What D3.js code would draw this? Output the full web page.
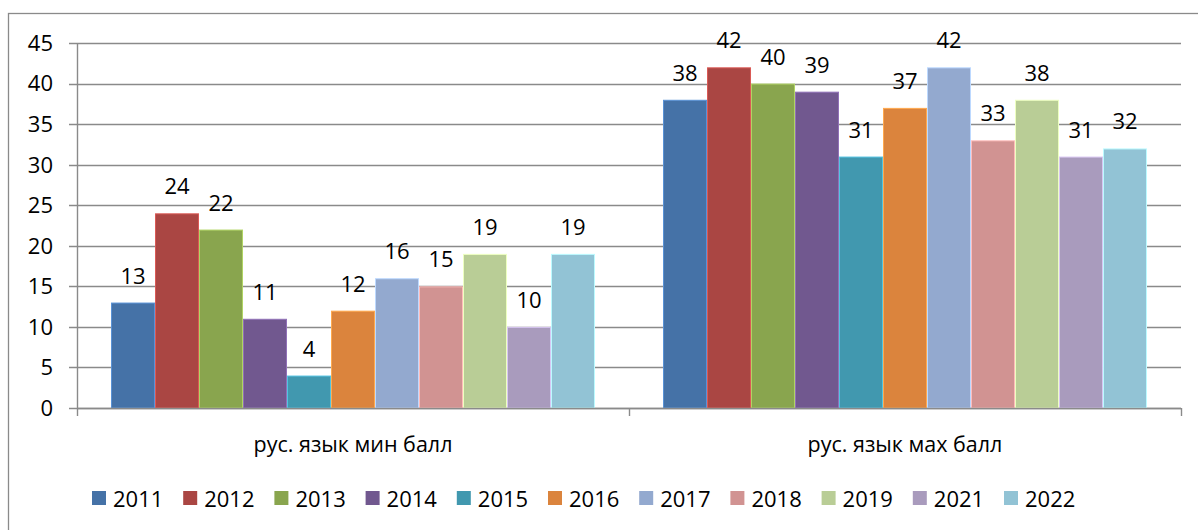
<!DOCTYPE html>
<html>
<head>
<meta charset="utf-8">
<script src="https://cdn.jsdelivr.net/npm/d3@7"></script>
<style>
  html, body { margin: 0; padding: 0; background: #fff; }
  #chart { width: 1198px; height: 530px; overflow: hidden; }
</style>
</head>
<body>
<div id="chart"></div>
<script>
(function () {
  // ── DATA ──────────────────────────────────────────────────────────────────
  const categories = ["рус. язык мин балл", "рус. язык мах балл"];
  const years = ["2011","2012","2013","2014","2015","2016","2017","2018","2019","2021","2022"];
  const minScores = [13, 24, 22, 11, 4, 12, 16, 15, 19, 10, 19];
  const maxScores = [38, 42, 40, 39, 31, 37, 42, 33, 38, 31, 32];
  const yTicks = [0, 5, 10, 15, 20, 25, 30, 35, 40, 45];

  const COLORS = [
    "#4572a7", "#aa4643", "#89a54e", "#71588f", "#4198af", "#db843d",
    "#93a9cf", "#d19392", "#b9cd96", "#a99bbd", "#92c3d5"
  ];

  const valuesByCat = [minScores, maxScores];
  const FONT = "'Open Sans', 'Noto Sans', sans-serif";
  const GRID = "#8a8a8a";

  // ── LAYOUT ────────────────────────────────────────────────────────────────
  const totalW = 1198, totalH = 530;
  const plot = { left: 77, right: 1181, top: 43, bottom: 408 };

  const svg = d3.select("#chart").append("svg")
    .attr("width", totalW)
    .attr("height", totalH)
    .style("display", "block");

  // outer frame (runs off the right / bottom edge like the original)
  svg.append("rect")
    .attr("x", 8.5).attr("y", 13.5)
    .attr("width", 1300).attr("height", 600)
    .attr("fill", "#fff")
    .attr("stroke", GRID)
    .attr("stroke-width", 1.3);

  // ── SCALES ────────────────────────────────────────────────────────────────
  const x0 = d3.scaleBand()
    .domain(categories)
    .range([plot.left, plot.right])
    .paddingInner(0)
    .paddingOuter(0);

  const x1 = d3.scaleBand()
    .domain(years)
    .range([0, x0.bandwidth()])
    .paddingInner(0)
    .paddingOuter(0.773);

  const y = d3.scaleLinear()
    .domain([0, 45])
    .range([plot.bottom, plot.top]);

  // ── GRID + Y AXIS ─────────────────────────────────────────────────────────
  svg.append("g")
    .selectAll("line")
    .data(yTicks)
    .join("line")
    .attr("x1", plot.left - 8)
    .attr("x2", plot.right)
    .attr("y1", d => Math.round(y(d)) + 0.5)
    .attr("y2", d => Math.round(y(d)) + 0.5)
    .attr("stroke", GRID)
    .attr("stroke-width", 1.4);

  svg.append("g")
    .selectAll("text")
    .data(yTicks)
    .join("text")
    .attr("x", 53)
    .attr("y", d => y(d))
    .attr("dy", "0.36em")
    .attr("text-anchor", "end")
    .attr("font-family", FONT)
    .attr("font-size", "22px")
    .attr("fill", "#000")
    .text(d => d);

  svg.append("line")
    .attr("x1", plot.left + 0.5).attr("x2", plot.left + 0.5)
    .attr("y1", plot.top).attr("y2", plot.bottom)
    .attr("stroke", GRID)
    .attr("stroke-width", 1.4);

  // ── BARS ──────────────────────────────────────────────────────────────────
  const groups = svg.append("g")
    .selectAll("g")
    .data(categories)
    .join("g")
    .attr("transform", d => `translate(${x0(d)},0)`);

  groups.selectAll("rect")
    .data((c, ci) => years.map((yr, i) => ({ yr, i, v: valuesByCat[ci][i] })))
    .join("rect")
    .attr("x", d => x1(d.yr) + 0.5)
    .attr("y", d => y(d.v) + 0.5)
    .attr("width", x1.bandwidth() - 1)
    .attr("height", d => y(0) - y(d.v) - 0.5)
    .attr("fill", d => COLORS[d.i])
    .attr("stroke", d => d3.color(COLORS[d.i]).brighter(0.7))
    .attr("stroke-width", 1);

  groups.selectAll("text")
    .data((c, ci) => years.map((yr, i) => ({ yr, i, v: valuesByCat[ci][i] })))
    .join("text")
    .attr("x", d => x1(d.yr) + x1.bandwidth() / 2)
    .attr("y", d => y(d.v) - 19)
    .attr("text-anchor", "middle")
    .attr("font-family", FONT)
    .attr("font-size", "22px")
    .attr("fill", "#000")
    .text(d => d.v);

  // ── X AXIS ────────────────────────────────────────────────────────────────
  svg.append("line")
    .attr("x1", plot.left).attr("x2", plot.right)
    .attr("y1", plot.bottom + 0.5).attr("y2", plot.bottom + 0.5)
    .attr("stroke", GRID)
    .attr("stroke-width", 1.4);

  const bounds = categories.map(c => x0(c)).concat([x0(categories[1]) + x0.bandwidth()]);
  svg.append("g")
    .selectAll("line")
    .data(bounds)
    .join("line")
    .attr("x1", d => Math.round(d) + 0.5)
    .attr("x2", d => Math.round(d) + 0.5)
    .attr("y1", plot.bottom)
    .attr("y2", plot.bottom + 8)
    .attr("stroke", GRID)
    .attr("stroke-width", 1.4);

  svg.append("g")
    .selectAll("text")
    .data(categories)
    .join("text")
    .attr("x", d => x0(d) + x0.bandwidth() / 2)
    .attr("y", 452)
    .attr("text-anchor", "middle")
    .attr("font-family", FONT)
    .attr("font-size", "21.5px")
    .attr("fill", "#000")
    .text(d => d);

  // ── LEGEND ────────────────────────────────────────────────────────────────
  const legendX = d3.scalePoint()
    .domain(years)
    .range([92, 1004]);

  const legend = svg.append("g")
    .selectAll("g")
    .data(years)
    .join("g")
    .attr("transform", d => `translate(${legendX(d)},491)`);

  legend.append("rect")
    .attr("width", 14)
    .attr("height", 14)
    .attr("fill", (d, i) => COLORS[i]);

  legend.append("text")
    .attr("x", 21)
    .attr("y", 15.5)
    .attr("font-family", FONT)
    .attr("font-size", "22px")
    .attr("fill", "#000")
    .text(d => d);
})();
</script>
</body>
</html>
